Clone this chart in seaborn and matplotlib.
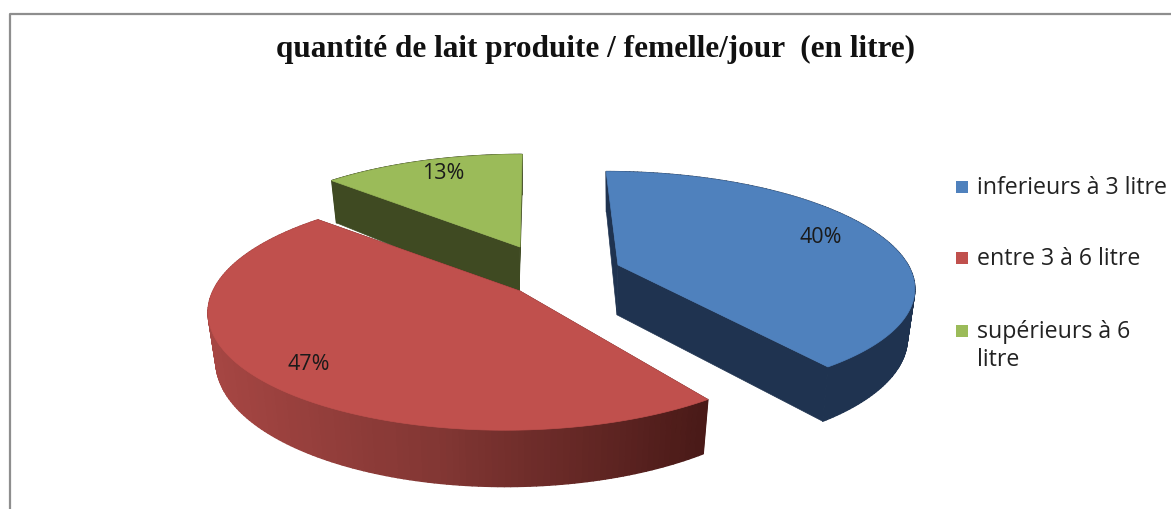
import numpy as np
import matplotlib
matplotlib.use('Agg')
import matplotlib.pyplot as plt
from matplotlib.collections import PolyCollection
import seaborn as sns

# Pie values, clockwise from 12 o'clock
categories = ['inferieurs à 3 litre', 'entre 3 à 6 litre', 'supérieurs à 6\nlitre']
percents = [40, 47, 13]
chart_title = 'quantité de lait produite / femelle/jour  (en litre)'

sns.set_theme(style='white')

top_colors = ['#4f81bd', '#c0504d', '#9bbb59']
side_colors = ['#1f3350', '#4a1a18', '#3f4a22']
rim_ramps = [sns.blend_palette(['#1f3350', '#1f3350'], 80),
             sns.blend_palette(['#a64643', '#7f3532', '#4a1a18'], 80),
             sns.blend_palette(['#3f4a22', '#3f4a22'], 80)]

# Where each exploded slice's apex sits on the canvas
apex = [(618, 265), (520, 291), (520, 247)]
ellipse_shift = [0, -10, 0]
radius_x = [290, 297, 290]
radius_y = [109, 116, 108]
tilt = 1 / 6
vanish_x = 535
depth = 47


def project(theta, centre, rx, ry):
    # theta in degrees, clockwise from the top of the pie
    t = np.radians(theta)
    wx, wy = np.sin(t), np.cos(t)
    w = 1 + tilt * wy
    return (vanish_x + (centre[0] - vanish_x + rx * wx) / w,
            centre[1] - ry * wy / w,
            w)


def lower(x, y, w, cx):
    # same point on the bottom face of the slab
    return cx + (x - cx) * 0.975, y + depth / w


fig = plt.figure(figsize=(11.71, 5.09), dpi=100)
ax = fig.add_axes([0, 0, 1, 1])
ax.set_xlim(0, 1171)
ax.set_ylim(509, 0)
ax.axis('off')

# Chart area border, only the top and left show
ax.plot([9.5, 9.5, 1171], [509, 14, 14], color='#8e8e8e', lw=1.6, zorder=1)

edges = np.cumsum([0] + percents) * 3.6
draw_order = [2, 1, 0]  # back to front

for n, i in enumerate(draw_order):
    z = 2 + n
    a0, a1 = edges[i], edges[i + 1]
    cen = apex[i]
    ell = (cen[0] + ellipse_shift[i], cen[1])
    rx, ry = radius_x[i], radius_y[i]
    thetas = np.linspace(a0, a1, 160)
    xs, ys, ws = project(thetas, ell, rx, ry)
    bx, by = lower(xs, ys, ws, cen[0])
    low_apex = (cen[0] - 1, cen[1] + depth * 1.06)

    # Two cut faces
    for xe, ye, bxe, bye in [(xs[0], ys[0], bx[0], by[0]), (xs[-1], ys[-1], bx[-1], by[-1])]:
        ax.fill([cen[0], xe, bxe, low_apex[0]], [cen[1], ye, bye, low_apex[1]],
                color=side_colors[i], lw=0.5, zorder=z)

    # Outer wall, shaded step by step
    quads = []
    cols = []
    for j in range(len(thetas) - 1):
        quads.append([(xs[j], ys[j]), (xs[j + 1], ys[j + 1]), (bx[j + 1], by[j + 1]), (bx[j], by[j])])
        frac = (xs[j] - xs.min()) / (xs.max() - xs.min())
        cols.append(rim_ramps[i][min(int(frac * 80), 79)])
    ax.add_collection(PolyCollection(quads, facecolors=cols, edgecolors=cols, linewidths=1.0, zorder=z))

    # Top face
    ax.fill(np.r_[cen[0], xs], np.r_[cen[1], ys], color=top_colors[i], lw=0.5, zorder=z + 0.5)

    # Data label
    mid = (a0 + a1) / 2
    lx, ly, _ = project(mid, ell, rx * 0.79, ry * 0.85)
    ax.text(lx, ly, f'{percents[i]}%', ha='center', va='center', fontsize=15.5,
            family='Open Sans', color='#1a1a1a', zorder=10)

ax.text(596, 49, chart_title, ha='center', va='center', fontsize=22.5, fontweight='bold',
        family='Liberation Serif', color='#111111', zorder=10)

# Legend keys sit on the first line of each label, so built by hand
legend_rows = [187, 258, 331]
for y, c, label in zip(legend_rows, top_colors, categories):
    ax.scatter([961.5], [y], marker='s', s=75, color=c, linewidths=0, zorder=10)
    ax.text(977, y - 11, label, ha='left', va='top', fontsize=16.7, family='Open Sans',
            color='#222222', linespacing=1.25, zorder=10)

fig.savefig('out.png', dpi=100)
